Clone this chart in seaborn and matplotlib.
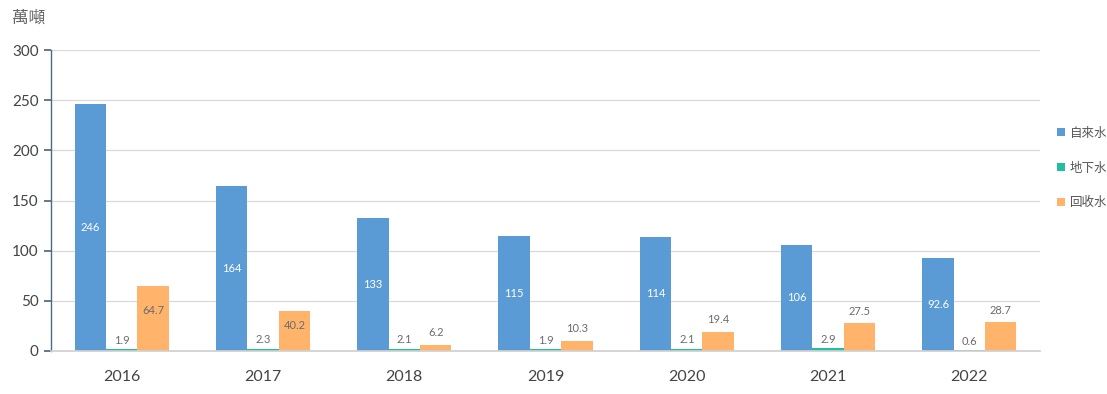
import matplotlib
matplotlib.use("Agg")
import matplotlib.pyplot as plt
import seaborn as sns
import pandas as pd
from matplotlib.patches import Patch

years = ["2016", "2017", "2018", "2019", "2020", "2021", "2022"]
tap_water = [246, 164, 133, 115, 114, 106, 92.6]
ground_water = [1.9, 2.3, 2.1, 1.9, 2.1, 2.9, 0.6]
recycled_water = [64.7, 40.2, 6.2, 10.3, 19.4, 27.5, 28.7]
series_names = ["自來水", "地下水", "回收水"]
colors = ["#5B9BD5", "#1FBF9F", "#FFB36B"]

df = pd.DataFrame({
    "year": years * 3,
    "series": [series_names[0]] * 7 + [series_names[1]] * 7 + [series_names[2]] * 7,
    "value": tap_water + ground_water + recycled_water,
})

sns.set_theme(style="white")
plt.rcParams['font.family'] = ['Lato', 'Noto Sans CJK TC', 'DejaVu Sans']

fig = plt.figure(figsize=(11.07, 3.94), dpi=100)
ax = fig.add_axes([51/1107, 43/394, 989/1107, 301/394])

sns.barplot(data=df, x="year", y="value", hue="series", palette=colors,
            width=0.667, saturation=1, ax=ax, legend=False,
            linewidth=0, edgecolor="none")

ax.set_ylim(0, 300)
ax.set_yticks(range(0, 301, 50))
ax.set_xlim(-0.5, 6.5)
ax.yaxis.grid(True, color="#d9d9d9", linewidth=0.9)
ax.set_axisbelow(True)
for s in ["top", "right"]:
    ax.spines[s].set_visible(False)
ax.spines["left"].set_color("#4d6a85")
ax.spines["left"].set_linewidth(1.0)
ax.spines["bottom"].set_color("#d0d0d0")
ax.tick_params(axis="y", which="both", left=True, length=5, color="#4d6a85",
               labelsize=11, labelcolor="#444444", pad=4)
ax.tick_params(axis="x", bottom=False, labelsize=11.5, labelcolor="#444444", pad=8)
ax.set_xlabel("")
ax.set_ylabel("")

# labels
for ci, cont in enumerate(ax.containers):
    for bar, val in zip(cont, [tap_water, ground_water, recycled_water][ci]):
        x = bar.get_x() + bar.get_width() / 2
        h = bar.get_height()
        txt = f"{val:g}"
        if ci == 0:
            ax.text(x, h / 2, txt, ha="center", va="center", color="white", fontsize=8)
        elif ci == 1:
            ax.text(x, h + 9, txt, ha="center", va="center", color="#6b6b6b", fontsize=8)
        else:
            if h > 35:
                ax.text(x, h * 0.62, txt, ha="center", va="center", color="#6b6b6b", fontsize=8)
            else:
                ax.text(x, h + 12, txt, ha="center", va="center", color="#6b6b6b", fontsize=8)

fig.text(12/1107, 1 - 18/394, "萬噸", ha="left", va="center", fontsize=12,
         color="#666666", fontweight="medium", family=['Noto Sans CJK TC', 'DejaVu Sans'])

handles = [Patch(facecolor=c, edgecolor="none") for c in colors]
leg = fig.legend(handles, series_names, loc="center left",
                 bbox_to_anchor=(1046/1107, 1 - 168/394), frameon=False,
                 handlelength=0.6, handleheight=0.6, handletextpad=0.4,
                 labelspacing=1.75, prop={'family': ['Noto Sans CJK TC', 'DejaVu Sans'], 'size': 9})
for t in leg.get_texts():
    t.set_color("#555555")

fig.savefig("out.png", dpi=100)
